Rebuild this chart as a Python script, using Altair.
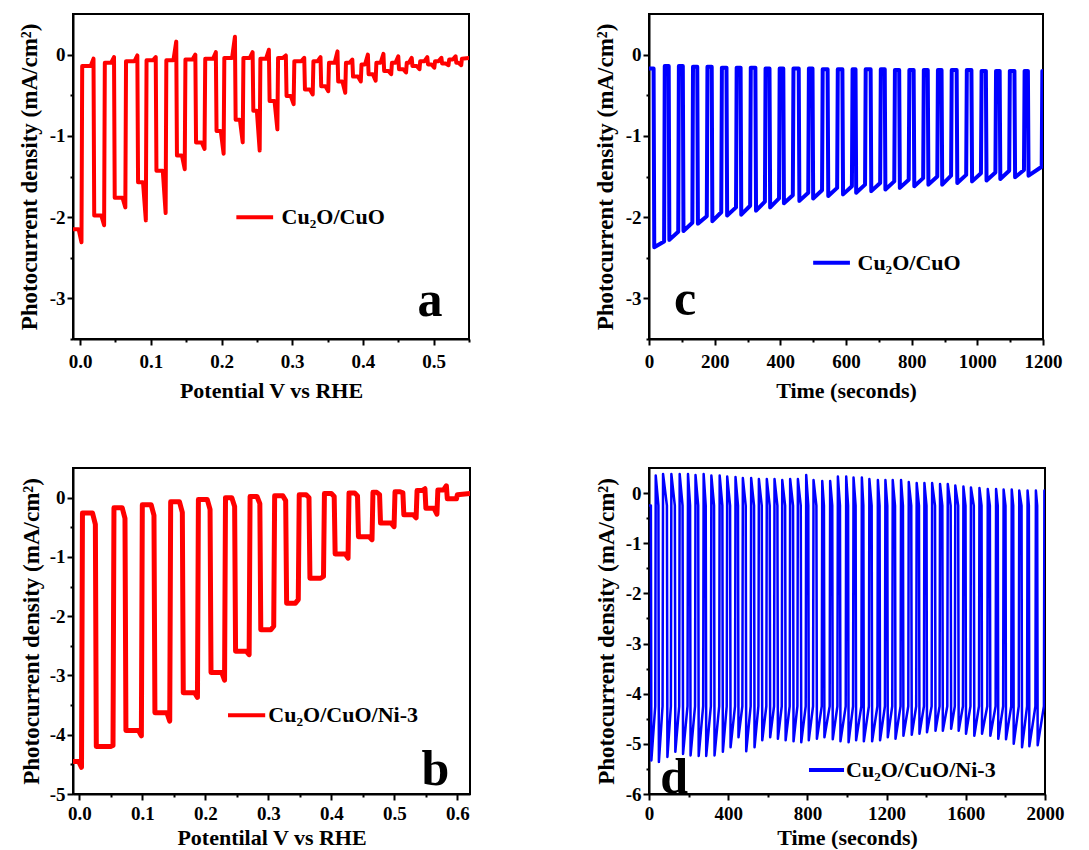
import altair as alt
import pandas as pd

FONT = "Liberation Serif"
YTITLE = "Photocurrent density (mA/cm²)"

# ---------------- panel a : Cu2O/CuO, chopped LSV ----------------
a_on = [-0.010, 0.020, 0.049, 0.082, 0.108, 0.137, 0.164, 0.193, 0.220, 0.245, 0.268, 0.292,
        0.318, 0.341, 0.365, 0.386, 0.408, 0.430, 0.451, 0.470, 0.492, 0.512, 0.532]
a_off = [0.003, 0.035, 0.065, 0.094, 0.122, 0.149, 0.177, 0.204, 0.231, 0.255, 0.280, 0.303,
         0.330, 0.352, 0.376, 0.398, 0.419, 0.441, 0.462, 0.481, 0.502, 0.522, 0.540]
a_light = [-2.15, -1.98, -1.76, -1.57, -1.43, -1.24, -1.08, -0.94, -0.80, -0.69, -0.57, -0.51,
           -0.43, -0.39, -0.33, -0.27, -0.24, -0.20, -0.18, -0.14, -0.12, -0.11, -0.10]
a_spike = [-2.31, -2.10, -1.88, -2.04, -1.95, -1.41, -1.16, -1.22, -1.08, -1.18, -0.92, -0.61,
           -0.49, -0.45, -0.47, -0.33, -0.32, -0.24, -0.22, -0.18, -0.16, -0.13, -0.13]
a_dark = [-0.14, -0.10, -0.08, -0.07, -0.07, -0.06, -0.05, -0.04, -0.04, -0.05, -0.04, -0.08,
          -0.08, -0.10, -0.10, -0.12, -0.10, -0.10, -0.10, -0.08, -0.08, -0.06, -0.05]
a_peak = [-0.05, -0.03, -0.01, -0.03, 0.16, 0.00, 0.03, 0.22, 0.03, 0.06, -0.01, -0.04,
          -0.03, 0.04, -0.06, 0.00, 0.01, -0.02, -0.04, -0.03, -0.04, -0.02, -0.04]
a_end = (0.55, -0.04)

# ---------------- panel b : Cu2O/CuO/Ni-3, chopped LSV ----------------
b_on = [-0.011, 0.027, 0.074, 0.120, 0.165, 0.209, 0.248, 0.288, 0.329, 0.366, 0.406, 0.443,
        0.478, 0.515, 0.550, 0.584]
b_off = [0.005, 0.055, 0.100, 0.145, 0.189, 0.232, 0.271, 0.310, 0.349, 0.389, 0.428, 0.466,
         0.501, 0.536, 0.569, 0.600]
b_light = [-4.45, -4.20, -3.93, -3.63, -3.29, -2.95, -2.59, -2.23, -1.78, -1.36, -0.95, -0.66,
           -0.43, -0.29, -0.18, -0.02]
b_lend = [-4.55, -4.18, -4.02, -3.77, -3.37, -3.08, -2.65, -2.17, -1.72, -1.33, -1.02, -0.71,
          -0.49, -0.34, -0.28, -0.02]
b_dark = [-0.26, -0.17, -0.12, -0.07, -0.03, 0.00, 0.02, 0.03, 0.05, 0.07, 0.08, 0.09,
          0.10, 0.12, 0.13, 0.05]
b_dend = [-0.45, -0.35, -0.30, -0.25, -0.20, -0.15, -0.10, -0.05, 0.00, 0.02, 0.03, 0.05,
          0.08, 0.15, 0.20, 0.07]
b_end = (0.62, 0.07)

# ---------------- panel c : Cu2O/CuO, chopped i-t ----------------
c_on = [16, 62, 105, 149, 193, 238, 281, 326, 369, 411, 458, 500, 546, 591, 631, 677, 720, 764,
        808, 851, 893, 939, 984, 1028, 1070, 1115, 1156]
c_off = [48, 91, 134, 178, 222, 267, 310, 355, 398, 440, 487, 529, 575, 620, 660, 706, 749, 793,
         837, 880, 922, 968, 1013, 1057, 1099, 1144, 1198]
c_spike = [-2.37, -2.28, -2.17, -2.08, -2.05, -1.98, -1.97, -1.92, -1.88, -1.83, -1.80, -1.77,
           -1.74, -1.72, -1.70, -1.68, -1.66, -1.64, -1.62, -1.60, -1.60, -1.58, -1.56, -1.55,
           -1.53, -1.51, -1.49]
c_lend = [-2.30, -2.18, -2.07, -1.99, -1.94, -1.88, -1.86, -1.81, -1.77, -1.73, -1.70, -1.67,
          -1.64, -1.62, -1.60, -1.58, -1.56, -1.54, -1.52, -1.50, -1.49, -1.48, -1.46, -1.45,
          -1.43, -1.42, -1.38]
c_dark = [-0.14, -0.14, -0.15, -0.15, -0.16, -0.16, -0.16, -0.17, -0.17, -0.17, -0.17, -0.18,
          -0.18, -0.18, -0.18, -0.18, -0.19, -0.19, -0.19, -0.19, -0.19, -0.19, -0.20, -0.20,
          -0.20, -0.20, -0.20]
c_start = (0, -0.17)
c_end = (1200, -0.20)

# ---------------- panel d : Cu2O/CuO/Ni-3, chopped i-t ----------------
d_low_t = [12, 50, 93, 133, 172, 210, 251, 289, 331, 373, 412, 452, 491, 533, 572, 612, 651, 690,
           730, 769, 807, 848, 886, 928, 967, 1008, 1046, 1085, 1127, 1167, 1206, 1245, 1285,
           1327, 1366, 1404, 1447, 1484, 1526, 1564, 1601, 1643, 1682, 1724, 1764, 1803, 1842,
           1884, 1921, 1963]
d_low = [-5.33, -5.36, -5.26, -5.16, -5.20, -5.23, -5.24, -5.24, -5.23, -5.16, -5.07, -4.87,
         -5.15, -5.07, -4.93, -4.87, -4.90, -4.93, -4.95, -4.97, -4.93, -4.90, -4.87, -4.91,
         -4.95, -4.97, -4.93, -4.95, -4.95, -4.93, -4.87, -4.90, -4.84, -4.82, -4.80, -4.77,
         -4.74, -4.74, -4.70, -4.74, -4.80, -4.84, -4.80, -4.84, -4.90, -4.91, -5.00, -5.07,
         -5.05, -5.03]
d_high_t = [34, 71, 113, 155, 197, 235, 276, 315, 357, 395, 437, 474, 516, 555, 595, 634, 673,
            713, 752, 794, 831, 875, 915, 954, 996, 1033, 1075, 1113, 1156, 1194, 1231, 1273,
            1312, 1352, 1391, 1430, 1470, 1509, 1547, 1588, 1626, 1669, 1711, 1753, 1791, 1832,
            1870, 1912, 1954, 1997]
d_high = [0.35, 0.38, 0.38, 0.38, 0.38, 0.36, 0.38, 0.35, 0.35, 0.33, 0.32, 0.30, 0.30, 0.28,
          0.28, 0.28, 0.26, 0.28, 0.28, 0.36, 0.26, 0.24, 0.24, 0.33, 0.33, 0.31, 0.31, 0.28,
          0.26, 0.26, 0.26, 0.26, 0.22, 0.20, 0.20, 0.20, 0.18, 0.18, 0.15, 0.13, 0.11, 0.10,
          0.08, 0.08, 0.07, 0.07, 0.05, 0.05, 0.05, 0.05]
d_light_end = -4.25
d_dark_end = -0.25
d_start = (0, -0.25)
d_end = (2000, 0.0)

# ---------------- ticks, legends, letters ----------------
a_xticks = [0.0, 0.05, 0.1, 0.15, 0.2, 0.25, 0.3, 0.35, 0.4, 0.45, 0.5, 0.55]
b_xticks = [0.0, 0.05, 0.1, 0.15, 0.2, 0.25, 0.3, 0.35, 0.4, 0.45, 0.5, 0.55, 0.6]
c_xticks = [0, 100, 200, 300, 400, 500, 600, 700, 800, 900, 1000, 1100, 1200]
d_xticks = [0, 200, 400, 600, 800, 1000, 1200, 1400, 1600, 1800, 2000]
ac_yticks = [-3.5, -3.0, -2.5, -2.0, -1.5, -1.0, -0.5, 0.0]
b_yticks = [-5.0, -4.5, -4.0, -3.5, -3.0, -2.5, -2.0, -1.5, -1.0, -0.5, 0.0]
d_yticks = [-6.0, -5.5, -5.0, -4.5, -4.0, -3.5, -3.0, -2.5, -2.0, -1.5, -1.0, -0.5, 0.0]

legend_a = dict(x0=0.221, x1=0.273, y=-2.0, tx=0.285, text="Cu₂O/CuO")
legend_c = dict(x0=500, x1=612, y=-2.56, tx=635, text="Cu₂O/CuO")
legend_b = dict(x0=0.236, x1=0.295, y=-3.67, tx=0.300, text="Cu₂O/CuO/Ni-3")
legend_d = dict(x0=808, x1=985, y=-5.52, tx=995, text="Cu₂O/CuO/Ni-3")
letter_a = dict(x=0.495, y=-3.22, text="a")
letter_c = dict(x=110, y=-3.2, text="c")
letter_b = dict(x=0.565, y=-4.85, text="b")
letter_d = dict(x=127, y=-5.98, text="d")


def val(v, k):
    return v[k] if isinstance(v, (list, tuple)) else v


def build(on, off, l0, l1, d0, d1, end, edge, hold=0.0, start=None):
    xs, ys = [], []
    if start is not None:
        xs += [start[0], on[0] - edge]
        ys += [start[1], start[1]]
    n = len(on)
    for k in range(n):
        xs.append(on[k]); ys.append(val(l0, k))
        if hold:
            xs.append(off[k] - hold); ys.append(val(l0, k))
        xs.append(off[k] - edge); ys.append(val(l1, k))
        xs.append(off[k]); ys.append(val(d0, k))
        if k + 1 < n:
            nxt = on[k + 1]
            if hold:
                xs.append(nxt - hold); ys.append(val(d0, k))
            xs.append(nxt - edge); ys.append(val(d1, k))
    xs.append(end[0]); ys.append(end[1])
    return pd.DataFrame({"x": xs, "y": ys, "i": list(range(len(xs)))})


df_a = build(a_on, a_off, a_light, a_spike, a_dark, a_peak, a_end, edge=0.001, hold=0.005)
df_b = build(b_on, b_off, b_light, b_lend, b_dark, b_dend, b_end, edge=0.0015, hold=0.006)
df_c = build(c_on, c_off, c_spike, c_lend, c_dark, c_dark, c_end, edge=2, start=c_start)
df_d = build(d_low_t, d_high_t, d_low, d_light_end, d_high, d_dark_end, d_end, edge=2.5,
             start=d_start)

YMAJ = "abs(datum.value - round(datum.value)) < 0.001"
X01MAJ = "abs(datum.value*10 - round(datum.value*10)) < 0.001"


def axis_common():
    return dict(domainColor="black", domainWidth=2, tickColor="black", tickWidth=2,
                labelFont=FONT, labelFontSize=19, labelFontWeight="bold", labelColor="black",
                titleFont=FONT, titleFontWeight="bold", titleColor="black",
                grid=False, labelOverlap=False)


def panel(df, color, sw, w, h, xdom, ydom, xticks, yticks, xmaj, xlab, xtitle, leg, letter,
          ytx, xlp, xty):
    xaxis = alt.Axis(values=xticks, title=xtitle,
                     labelExpr=f"({xmaj}) ? {xlab} : ''",
                     tickSize={"condition": {"test": f"!({xmaj})", "value": 3}, "value": 6},
                     labelPadding=xlp, titleFontSize=22,
                     titleY=xty, titleBaseline="middle", labelFlush=False, **axis_common())
    yaxis = alt.Axis(values=yticks, title=YTITLE,
                     labelExpr=f"({YMAJ}) ? '' + datum.value : ''",
                     tickSize={"condition": {"test": f"!({YMAJ})", "value": 3}, "value": 6},
                     labelPadding=2, titleFontSize=23,
                     titleX=ytx, titleY=h / 2, titleBaseline="bottom", **axis_common())
    X = alt.X("x:Q", scale=alt.Scale(domain=xdom, nice=False, zero=False), axis=xaxis)
    Y = alt.Y("y:Q", scale=alt.Scale(domain=ydom, nice=False, zero=False), axis=yaxis)
    line = alt.Chart(df).mark_line(color=color, strokeWidth=sw, strokeJoin="round",
                                   strokeCap="round", clip=True).encode(x=X, y=Y, order="i:Q")
    ldf = pd.DataFrame({"x": [leg["x0"]], "x2": [leg["x1"]], "y": [leg["y"]]})
    rule = alt.Chart(ldf).mark_rule(color=color, strokeWidth=4).encode(x=X, x2="x2:Q", y=Y)
    tdf = pd.DataFrame({"x": [leg["tx"]], "y": [leg["y"]], "t": [leg["text"]]})
    txt = alt.Chart(tdf).mark_text(align="left", baseline="middle", font=FONT, fontSize=22,
                                   fontWeight="bold", color="black").encode(
        x=X, y=Y, text="t:N")
    ltdf = pd.DataFrame({"x": [letter["x"]], "y": [letter["y"]], "t": [letter["text"]]})
    let = alt.Chart(ltdf).mark_text(align="center", baseline="alphabetic", font=FONT,
                                    fontSize=50, fontWeight="bold", color="black").encode(
        x=X, y=Y, text="t:N")
    return alt.layer(line, rule, txt, let).properties(width=w, height=h)


pa = panel(df_a, "#ff0000", 4, 396, 325, [-0.01, 0.55], [-3.5, 0.5], a_xticks, ac_yticks,
           X01MAJ, "format(datum.value, '.1f')", "Potential V vs RHE", legend_a, letter_a,
           ytx=-32, xlp=7, xty=51)
pc = panel(df_c, "#0000ff", 4, 394, 325, [0, 1200], [-3.5, 0.5], c_xticks, ac_yticks,
           "datum.value % 200 == 0", "'' + datum.value", "Time (seconds)", legend_c, letter_c,
           ytx=-32, xlp=7, xty=51)
pb = panel(df_b, "#ff0000", 5, 397, 326, [-0.01, 0.62], [-5, 0.5], b_xticks, b_yticks,
           X01MAJ, "format(datum.value, '.1f')", "Potentilal V vs RHE", legend_b, letter_b,
           ytx=-30, xlp=4, xty=43)
pd_ = panel(df_d, "#0000ff", 2.5, 396, 326, [0, 2000], [-6, 0.5], d_xticks, d_yticks,
            "datum.value % 400 == 0", "'' + datum.value", "Time (seconds)", legend_d, letter_d,
            ytx=-31, xlp=4, xty=43)

top = alt.hconcat(pa, pc, spacing=180, bounds="flush")
bottom = alt.hconcat(pb, pd_, spacing=179, bounds="flush")
chart = alt.vconcat(top, bottom, spacing=65).properties(
    padding={"left": 17, "top": 13, "right": 0, "bottom": 0}, background="white"
).configure_view(stroke="black", strokeWidth=2)

chart.save("out.html", embed_options={"renderer": "svg", "actions": False})
